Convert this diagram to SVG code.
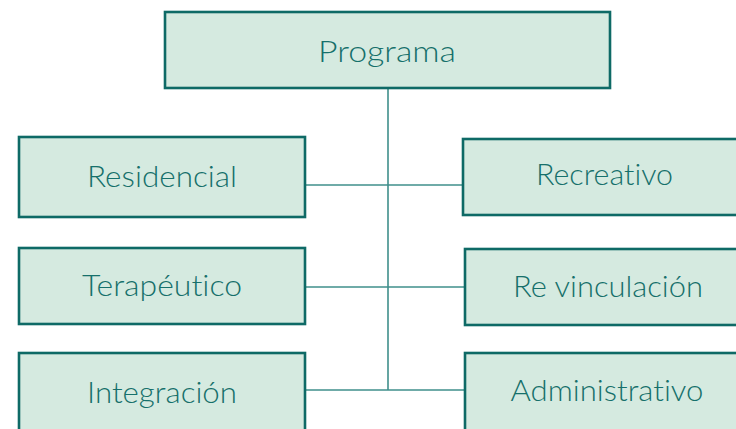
<svg xmlns="http://www.w3.org/2000/svg" width="736" height="429" viewBox="0 0 736 429">
<style>
.box{fill:#d5eae0;stroke:#0e6a66;stroke-width:2.6}
.lbl{font-family:Lato,"Noto Sans","Liberation Sans",sans-serif;font-size:30px;font-weight:300;fill:#16706b;text-anchor:middle;font-variant-ligatures:none;font-feature-settings:"liga" 0}
.con{stroke:#3f8f8b;stroke-width:1.6;fill:none}
</style>
<rect width="736" height="429" fill="#ffffff"/>
<g id="connectors">
<line class="con" x1="388" y1="88" x2="388" y2="390"/>
<line class="con" x1="305" y1="185" x2="463" y2="185"/>
<line class="con" x1="305" y1="287" x2="465" y2="287"/>
<line class="con" x1="305" y1="390" x2="465" y2="390"/>
</g>
<g id="programa">
<rect class="box" x="165" y="12" width="445" height="76"/>
<text class="lbl" x="387" y="62" textLength="138" lengthAdjust="spacingAndGlyphs">Programa</text>
</g>
<g id="residencial">
<rect class="box" x="19" y="137" width="286" height="80"/>
<text class="lbl" x="162" y="187" textLength="150" lengthAdjust="spacingAndGlyphs">Residencial</text>
</g>
<g id="recreativo">
<rect class="box" x="463" y="139" width="286" height="76"/>
<text class="lbl" x="604.5" y="185" textLength="137" lengthAdjust="spacingAndGlyphs">Recreativo</text>
</g>
<g id="terapeutico">
<rect class="box" x="19" y="248" width="286" height="76"/>
<text class="lbl" x="162" y="296" textLength="160" lengthAdjust="spacingAndGlyphs">Terapéutico</text>
</g>
<g id="revinculacion">
<rect class="box" x="465" y="249" width="286" height="76"/>
<text class="lbl" x="608" y="297" textLength="190" lengthAdjust="spacingAndGlyphs">Re vinculación</text>
</g>
<g id="integracion">
<rect class="box" x="19" y="353" width="286" height="90"/>
<text class="lbl" x="162" y="403" textLength="150" lengthAdjust="spacingAndGlyphs">Integración</text>
</g>
<g id="administrativo">
<rect class="box" x="465" y="353" width="286" height="90"/>
<text class="lbl" x="607" y="401" textLength="193" lengthAdjust="spacingAndGlyphs">Administrativo</text>
</g>
</svg>
